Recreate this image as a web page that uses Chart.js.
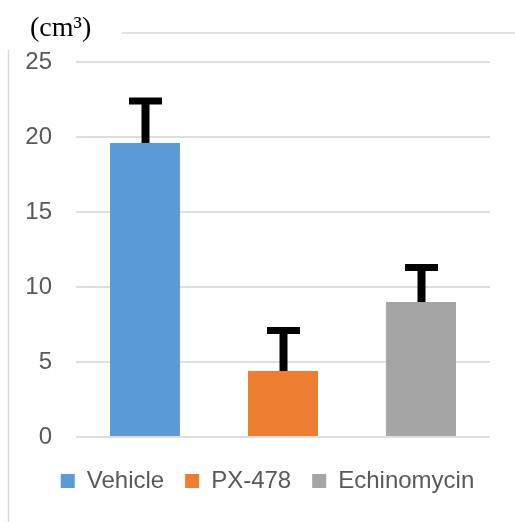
<!DOCTYPE html>
<html>
<head>
<meta charset="utf-8">
<script src="https://cdn.jsdelivr.net/npm/chart.js@4"></script>
<style>
  html, body { margin: 0; padding: 0; background: #fff; }
  #wrap { width: 515px; height: 522px; position: relative; }
</style>
</head>
<body>
<div id="wrap"><canvas id="volChart"></canvas></div>
<script>
// valores
const groups = ['Vehicle', 'PX-478', 'Echinomycin'];
const means = [19.6, 4.4, 9.0];
const errors = [2.8, 2.7, 2.3];
const colors = ['#5B9BD5', '#ED7D31', '#A5A5A5'];
const yMin = 0;
const yMax = 25;
const yStep = 5;
const unitLabel = '(cm³)';

// barras de erro (só para cima)
const errorBars = {
  id: 'errorBars',
  afterDatasetsDraw(chart) {
    const ctx = chart.ctx;
    const y = chart.scales.y;
    ctx.save();
    ctx.strokeStyle = '#000';
    chart.data.datasets.forEach((ds, i) => {
      const bar = chart.getDatasetMeta(i).data[0];
      if (!bar) return;
      const top = y.getPixelForValue(ds.data[0] + errors[i]);
      ctx.lineWidth = 8;
      ctx.beginPath();
      ctx.moveTo(bar.x + 0.5, bar.y);
      ctx.lineTo(bar.x + 0.5, top);
      ctx.stroke();
      ctx.lineWidth = 7;
      ctx.beginPath();
      ctx.moveTo(bar.x - 16, top);
      ctx.lineTo(bar.x + 17, top);
      ctx.stroke();
    });
    ctx.restore();
  }
};

// moldura parcial + unidade no canto
const frame = {
  id: 'frame',
  beforeDraw(chart) {
    const ctx = chart.ctx;
    ctx.save();
    ctx.strokeStyle = '#d9d9d9';
    ctx.lineWidth = 1.5;
    ctx.beginPath();
    ctx.moveTo(122, 33);
    ctx.lineTo(chart.width, 33);
    ctx.moveTo(8.5, 50);
    ctx.lineTo(8.5, chart.height);
    ctx.stroke();
    ctx.fillStyle = '#000';
    ctx.font = '28px "Liberation Serif"';
    ctx.textBaseline = 'middle';
    ctx.textAlign = 'left';
    ctx.fillText(unitLabel, 30, 29);
    ctx.restore();
  }
};

new Chart(document.getElementById('volChart'), {
  type: 'bar',
  data: {
    labels: [''],
    datasets: groups.map((g, i) => ({
      label: g,
      data: [means[i]],
      backgroundColor: colors[i],
      categoryPercentage: 1.0,
      barPercentage: 0.507
    }))
  },
  options: {
    responsive: true,
    maintainAspectRatio: false,
    animation: false,
    layout: { padding: { left: 22, right: 2, top: 62, bottom: 19 } },
    scales: {
      x: {
        grid: { display: false },
        border: { display: false },
        ticks: { display: false },
        afterFit(scale) { scale.height = 11; }
      },
      y: {
        min: yMin,
        max: yMax,
        ticks: {
          stepSize: yStep,
          color: '#595959',
          padding: 24,
          font: { family: 'Liberation Sans', size: 24 }
        },
        grid: { color: '#dedede', lineWidth: 2, drawTicks: false },
        border: { display: false },
        afterFit(scale) { scale.width = 54; }
      },
      y2: {
        position: 'right',
        grid: { display: false },
        border: { display: false },
        ticks: { display: false },
        afterFit(scale) { scale.width = 23; }
      }
    },
    plugins: {
      title: { display: false },
      legend: {
        position: 'bottom',
        labels: {
          boxWidth: 14,
          boxHeight: 14,
          padding: 21,
          color: '#595959',
          font: { family: 'Liberation Sans', size: 24 }
        }
      },
      tooltip: { enabled: false }
    }
  },
  plugins: [errorBars, frame]
});
</script>
</body>
</html>
